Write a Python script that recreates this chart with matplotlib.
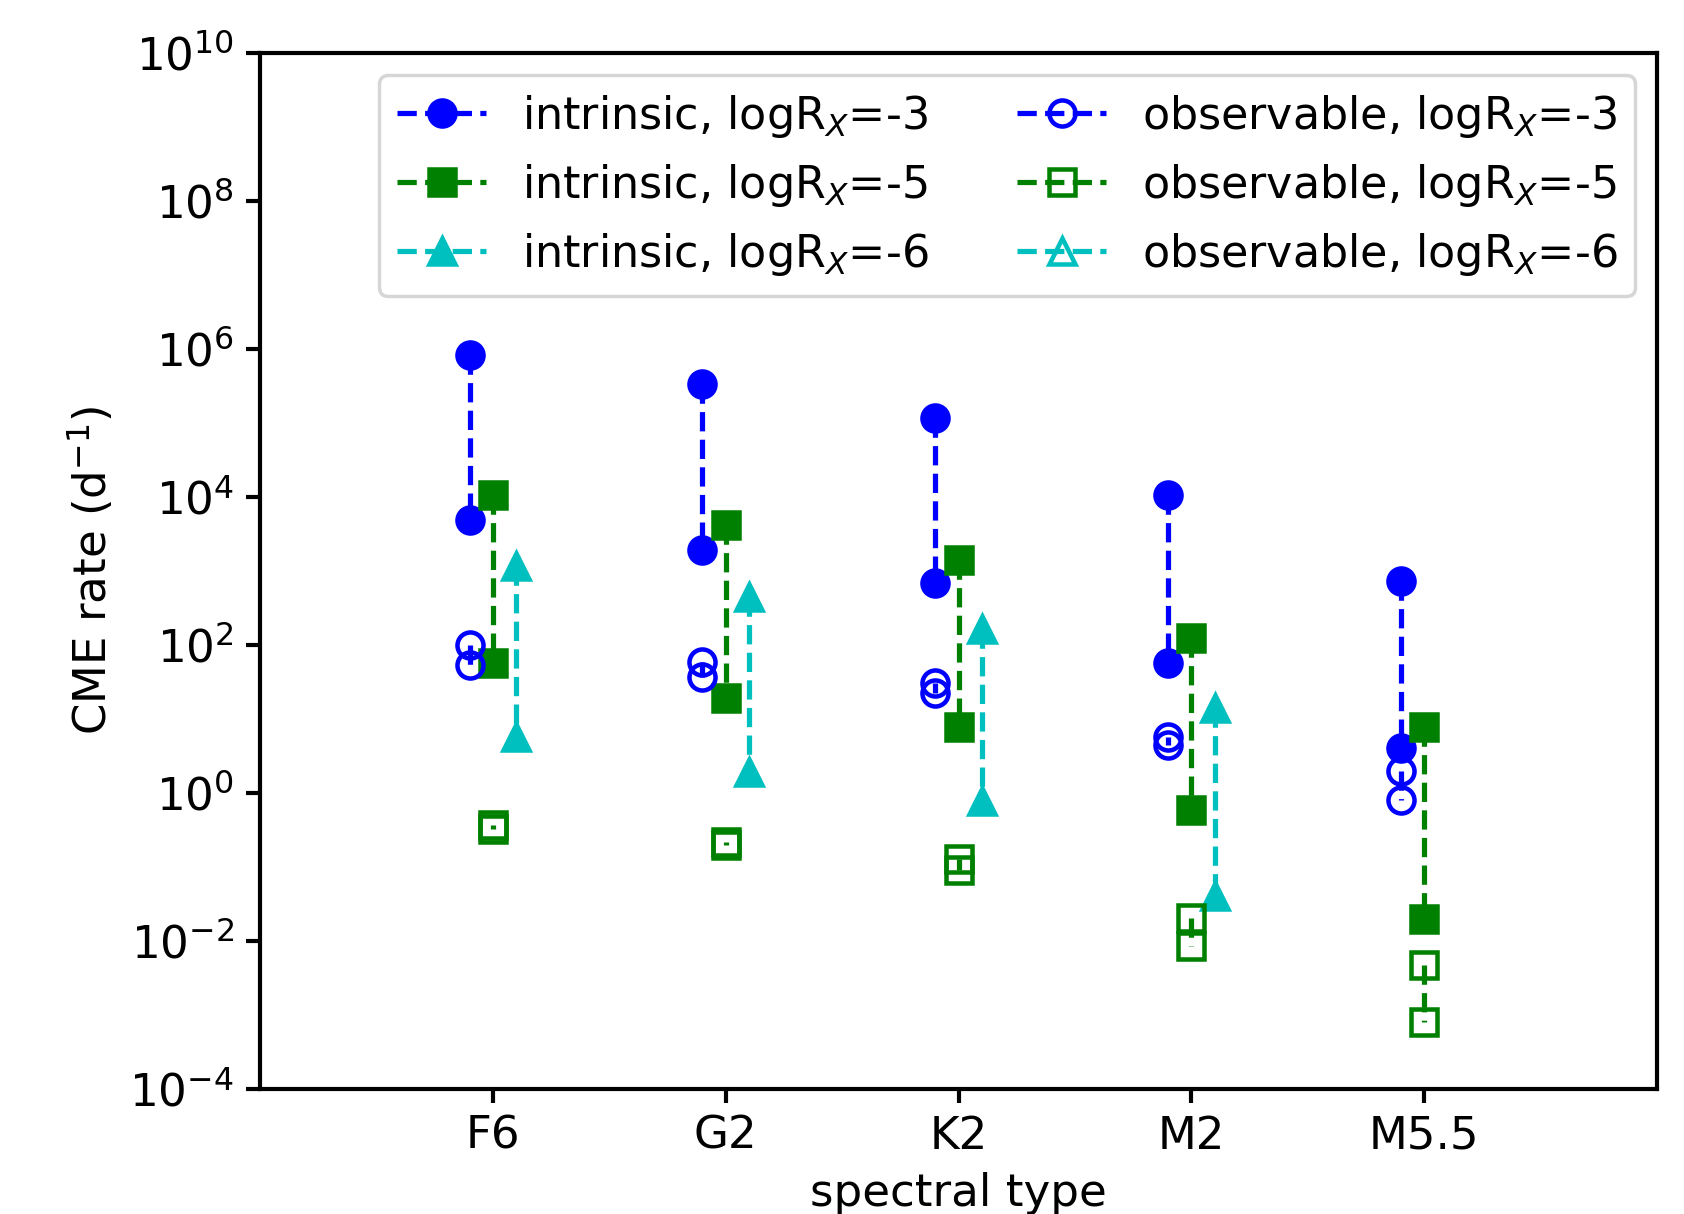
import numpy as np
import matplotlib
matplotlib.use('Agg')
from matplotlib import pyplot as plt

plt.rcParams['font.size'] = 13
plt.rcParams['axes.linewidth'] = 1.2

spectral_types = ['F6', 'G2', 'K2', 'M2', 'M5.5']

# log10 of CME rate (d^-1): [upper, lower] per spectral type
intrinsic_3 = [[5.92, 3.69], [5.52, 3.28], [5.07, 2.83], [4.02, 1.76], [2.86, 0.60]]
intrinsic_5 = [[4.02, 1.76], [3.62, 1.28], [3.15, 0.89], [2.09, -0.23], [0.89, -1.71]]
intrinsic_6 = [[3.07, 0.76], [2.64, 0.28], [2.21, -0.11], [1.14, -1.39], [np.nan, np.nan]]
observable_3 = [[2.00, 1.73], [1.77, 1.57], [1.48, 1.35], [0.76, 0.64], [0.29, -0.10]]
observable_5 = [[-0.44, -0.49], [-0.66, -0.70], [-0.90, -1.04], [-1.69, -2.07], [-2.32, -3.09]]
observable_6 = [[np.nan, np.nan]] * 5

series = [
    (intrinsic_3, -0.1, 'b', 'o', 'full', 'intrinsic, logR$_X$=-3'),
    (intrinsic_5, 0.0, 'g', 's', 'full', 'intrinsic, logR$_X$=-5'),
    (intrinsic_6, 0.1, 'c', '^', 'full', 'intrinsic, logR$_X$=-6'),
    (observable_3, -0.1, 'b', 'o', 'none', 'observable, logR$_X$=-3'),
    (observable_5, 0.0, 'g', 's', 'none', 'observable, logR$_X$=-5'),
    (observable_6, 0.1, 'c', '^', 'none', 'observable, logR$_X$=-6'),
]

fig = plt.figure(figsize=(6.736, 4.856), dpi=250)
ax = fig.add_axes([0.1544, 0.103, 0.8296, 0.8537])

for vals, off, col, mk, fill, lab in series:
    xs, ys = [], []
    for i, (hi, lo) in enumerate(vals):
        xs += [i + 1 + off, i + 1 + off, np.nan]
        ys += [10 ** hi, 10 ** lo, np.nan]
    ax.plot(xs, ys, '--', color=col, marker=mk, fillstyle=fill,
            markersize=7.5, linewidth=1.5, markeredgewidth=1.3, label=lab)

ax.set_yscale('log')
ax.set_ylim(1e-4, 1e10)
ax.set_yticks([10.0 ** k for k in range(-4, 11, 2)])
ax.minorticks_off()
ax.set_xlim(0, 6)
ax.set_xticks(range(1, 6))
ax.set_xticklabels(spectral_types)
ax.tick_params(width=1.2, length=4)
ax.set_xlabel('spectral type')
ax.set_ylabel('CME rate (d$^{-1}$)')
ax.legend(ncol=2, loc='upper right', columnspacing=2.0, fontsize=12.8)

fig.savefig('out.png', dpi=250)
